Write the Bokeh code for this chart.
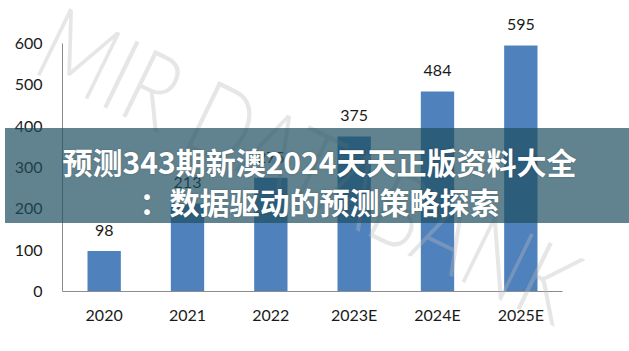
from bokeh.plotting import figure
from bokeh.models import ColumnDataSource, LabelSet, Div
from bokeh.layouts import column
from bokeh.core.properties import value
from bokeh.embed import file_html
from bokeh.resources import INLINE

years = ["2020", "2021", "2022", "2023E", "2024E", "2025E"]
values = [98, 213, 275, 375, 484, 595]
y_ticks = [0, 100, 200, 300, 400, 500, 600]
title_line1 = "预测343期新澳2024天天正版资料大全"
title_line2 = "：数据驱动的预测策略探索"
watermark = "MIR DATABANK"

src = ColumnDataSource(dict(x=years, top=values, lab=[str(v) for v in values]))

p = figure(x_range=years, y_range=(0, 699), width=629, height=351,
           output_backend="svg", toolbar_location=None,
           min_border_left=62, min_border_right=67, min_border_top=2, min_border_bottom=60)
p.outline_line_color = None
p.grid.grid_line_color = None
p.background_fill_color = "white"
p.border_fill_color = "white"

p.vbar(x="x", top="top", width=0.4, source=src, color="#4f81bd", line_color=None)

labels = LabelSet(x="x", y="top", text="lab", source=src, text_align="center",
                  text_baseline="bottom", y_offset=15, text_font_size=value("16px"),
                  text_font=value("Lato"), text_color="#1a1a1a")
p.add_layout(labels)

for ax in (p.xaxis[0], p.yaxis[0]):
    ax.axis_line_color = "#8c8c8c"
    ax.axis_line_width = 1
    ax.major_tick_line_color = None
    ax.minor_tick_line_color = None
    ax.major_label_text_font = "Lato"
    ax.major_label_text_font_size = "16px"
    ax.major_label_text_color = "#1a1a1a"
p.yaxis.ticker = y_ticks
p.yaxis.bounds = (0, 600)
p.yaxis.major_label_standoff = 14
p.xaxis.major_label_standoff = 7

overlay_html = f'''
<div style="position:relative; top:-355px; left:0; width:629px; height:351px; pointer-events:none; overflow:hidden; z-index:10;">
  <div style="position:absolute; left:305px; top:162px; transform:translate(-50%,-50%) rotate(26deg) scale(0.78,1);
              font-family:Lato; font-weight:300; font-size:104px; line-height:104px; color:rgba(185,185,185,0.36);
              white-space:nowrap;">{watermark}</div>
  <div style="position:absolute; left:0; top:127px; width:629px; height:95px; background:rgba(30,79,96,0.7);"></div>
  <div style="position:absolute; left:0; top:140px; width:629px; text-align:center; white-space:nowrap;
              font-family:'Noto Sans CJK SC'; font-weight:bold; font-size:30px; line-height:40px; color:white;
              text-shadow:0 0 2px rgba(0,0,0,0.25);">{title_line1}</div>
  <div style="position:absolute; left:0; top:180px; width:629px; text-align:center; white-space:nowrap;
              font-family:'Noto Sans CJK SC'; font-weight:bold; font-size:30px; line-height:40px; color:white;
              text-shadow:0 0 2px rgba(0,0,0,0.25);">{title_line2}</div>
</div>
'''
overlay = Div(text=overlay_html, width=629, height=0, styles={"overflow": "visible"})

layout = column(p, overlay)
open("out.html", "w").write(file_html(layout, INLINE))
